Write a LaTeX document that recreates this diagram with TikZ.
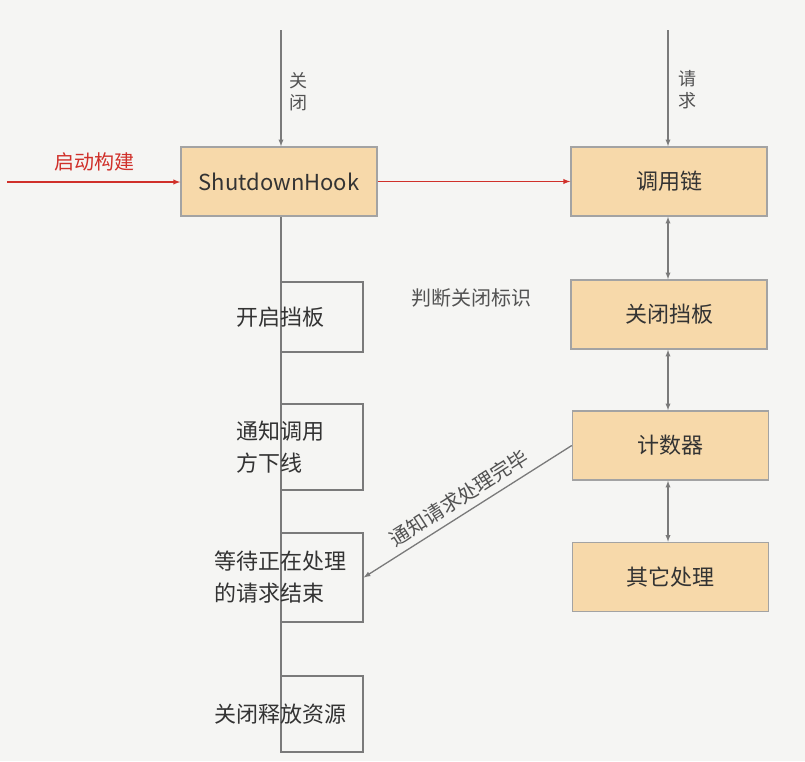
\documentclass[tikz,border=0pt]{standalone}
\usepackage{fontspec}
\setmainfont{Noto Sans CJK SC}
\usepackage{tikz}
\usetikzlibrary{arrows,positioning,calc}

\definecolor{bgcol}{HTML}{F5F5F3}
\definecolor{boxfill}{HTML}{F7D9AA}
\definecolor{boxline}{HTML}{A3A3A3}
\definecolor{linegray}{HTML}{7A7A7A}
\definecolor{txt}{HTML}{333333}
\definecolor{startred}{HTML}{D0302A}

\begin{document}
\begin{tikzpicture}[x=1pt, y=-1pt,
    proc/.style={rectangle, draw=boxline, line width=1.5pt, fill=boxfill, minimum width=196pt, minimum height=69pt, inner sep=0pt, font=\fontsize{22}{26}\selectfont, text=txt},
    stepbox/.style={rectangle, draw=linegray, line width=1.3pt, minimum width=82pt, inner sep=0pt},
    steptext/.style={align=left, inner sep=0pt, font=\fontsize{22}{32}\selectfont, text=txt},
    note/.style={font=\fontsize{20}{24}\selectfont, text=txt!85},
    flow/.style={draw=linegray, line width=1.3pt},
    arrow/.style={flow, -latex},
    dbl/.style={flow, latex-latex},
    redarrow/.style={draw=startred, line width=1.4pt, -latex}]

% canvas
\fill[bgcol] (0,0) rectangle (805,761);

% Shutdown side
\node[proc] (hook) at (279, 181.5) {ShutdownHook};
\coordinate (closein) at (281, 30);
\coordinate (buildin) at (7, 182);
\draw[arrow] (closein) -- (hook.north -| closein);
\node[note, align=center, font=\fontsize{18}{22}\selectfont] (closelbl) at (298, 92) {关\\闭};
\draw[redarrow] (buildin) -- (hook.west |- buildin);
\node[note, text=startred] (buildlbl) at (94, 162) {启动构建};

% steps hanging on the shutdown line
\coordinate (lineend) at (281, 752);
\draw[flow] (hook.south -| lineend) -- (lineend);

\node[stepbox, minimum height=70pt] (s1) at (322, 317) {};
\node[stepbox, minimum height=86pt] (s2) at (322, 447) {};
\node[stepbox, minimum height=89pt] (s3) at (322, 577.5) {};
\node[stepbox, minimum height=76pt] (s4) at (322, 714) {};

\node[steptext] (t1) at (s1.west) {开启挡板};
\node[steptext] (t2) at (s2.west) {通知调用\\方下线};
\node[steptext] (t3) at (s3.west) {等待正在处理\\的请求结束};
\node[steptext] (t4) at (s4.west) {关闭释放资源};

% request side
\node[proc] (chain) at (669, 181.5) {调用链};
\node[proc] (gate) at (669, 314.5) {关闭挡板};
\node[proc] (counter) at (670.5, 445.5) {计数器};
\node[proc] (other) at (670.5, 577) {其它处理};

\coordinate (reqin) at (668, 30);
\draw[arrow] (reqin) -- (chain.north -| reqin);
\node[note, align=center, font=\fontsize{18}{22}\selectfont] (reqlbl) at (687, 90) {请\\求};

\draw[redarrow] (hook.east) -- (chain.west);
\draw[dbl] (chain.south -| reqin) -- (gate.north -| reqin);
\draw[dbl] (gate.south -| reqin) -- (counter.north -| reqin);
\draw[dbl] (counter.south -| reqin) -- (other.north -| reqin);

\node[note] (judge) at (471, 298) {判断关闭标识};

% counter tells the waiting step
\draw[arrow] (counter.west) -- (s3.east)
    node[note, midway, sloped, above=3pt] (donelbl) {通知请求处理完毕};

\end{tikzpicture}
\end{document}
